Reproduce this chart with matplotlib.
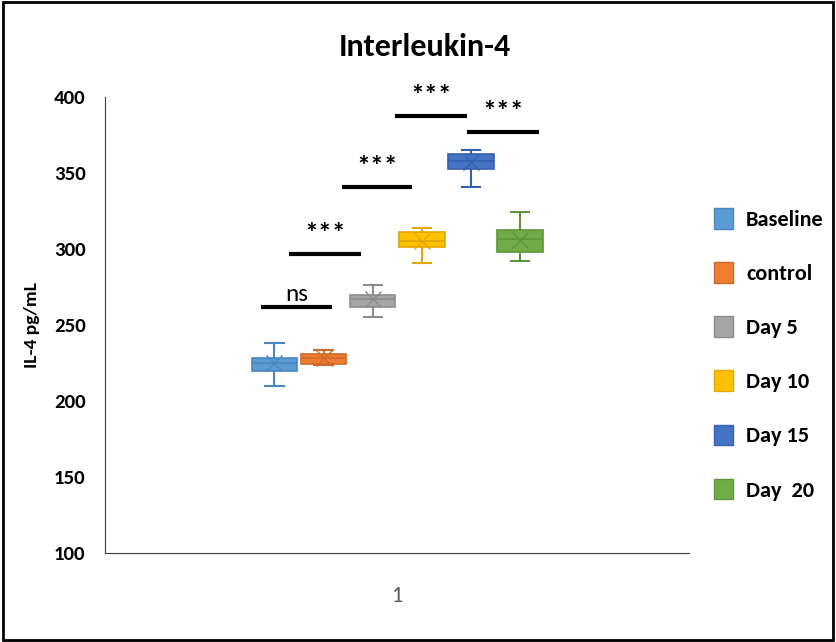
import matplotlib.pyplot as plt
import matplotlib.patches as mpatches

# group names, colours and box statistics (pg/mL)
groups = ["Baseline", "control", "Day 5", "Day 10", "Day 15", "Day  20"]
colors = ["#5B9BD5", "#ED7D31", "#A5A5A5", "#FFC000", "#4472C4", "#70AD47"]
edges = ["#4A86C0", "#D0692A", "#8C8C8C", "#E0A800", "#3560AE", "#5E9639"]
whislo = [210, 224, 255, 291, 341, 292]
q1 = [220, 224.5, 262, 301, 352.5, 298]
med = [225, 228, 267, 305, 358, 306.5]
q3 = [228, 231, 270, 311, 362.5, 312.5]
whishi = [238, 233.5, 276, 314, 365, 324]
means = [225, 228, 267, 305, 357, 306]

# significance brackets: start x, end x, height, label
sig_x0 = [0.767, 0.815, 0.905, 0.996, 1.119]
sig_x1 = [0.888, 0.938, 1.026, 1.119, 1.242]
sig_y = [262, 297, 341, 387.5, 377]
sig_lab = ["ns", "***", "***", "***", "***"]

positions = [0.79, 0.874, 0.958, 1.042, 1.126, 1.21]
box_w = 0.078

FONT = ["Carlito", "DejaVu Sans"]

fig = plt.figure(figsize=(8.36, 6.42), dpi=100)
ax = fig.add_axes([0.1256, 0.1386, 0.699, 0.7104])

stats = []
for i in range(len(groups)):
    stats.append({"whislo": whislo[i], "q1": q1[i], "med": med[i], "q3": q3[i],
                  "whishi": whishi[i], "mean": means[i], "fliers": []})

for i, s in enumerate(stats):
    ax.bxp([s], positions=[positions[i]], widths=box_w, patch_artist=True,
           showmeans=True, manage_ticks=False,
           boxprops=dict(facecolor=colors[i], edgecolor=edges[i], linewidth=1.2),
           medianprops=dict(color=edges[i], linewidth=1.2),
           whiskerprops=dict(color=edges[i], linewidth=1.5),
           capprops=dict(color=edges[i], linewidth=1.5),
           capwidths=box_w * 0.4,
           meanprops=dict(marker="x", markersize=11, markeredgecolor=edges[i],
                          markeredgewidth=1.0))

for x0, x1, y, lab in zip(sig_x0, sig_x1, sig_y, sig_lab):
    ax.plot([x0, x1], [y, y], color="black", linewidth=3, solid_capstyle="butt")
    if lab == "ns":
        ax.text((x0 + x1) / 2, y + 1, lab, ha="center", va="bottom", fontsize=18,
                family=FONT)
    else:
        ax.text((x0 + x1) / 2, y + 5, lab, ha="center", va="bottom", fontsize=20,
                fontweight="bold", family=FONT)

ax.set_xlim(0.5, 1.5)
ax.set_ylim(100, 400)
ax.set_yticks([100, 150, 200, 250, 300, 350, 400])
ax.set_xticks([1])
ax.set_xticklabels(["1"], color="#595959", fontsize=16, family=FONT)
ax.tick_params(length=0)
ax.tick_params(axis="x", pad=24)
ax.tick_params(axis="y", pad=14)
for t in ax.get_yticklabels():
    t.set_fontweight("bold")
    t.set_fontsize(15)
    t.set_family(FONT)
ax.set_ylabel("IL-4 pg/mL", fontsize=14, fontweight="bold", labelpad=10,
              family=FONT)
ax.spines["top"].set_visible(False)
ax.spines["right"].set_visible(False)
ax.spines["left"].set_color("#404040")
ax.spines["bottom"].set_color("#404040")

fig.text(0.508, 0.927, "Interleukin-4", ha="center", va="center", fontsize=23,
         fontweight="bold", family=FONT)

handles = [mpatches.Patch(facecolor=c, edgecolor=e) for c, e in zip(colors, edges)]
fig.legend(handles, groups, loc="center left", bbox_to_anchor=(0.83, 0.448),
           frameon=False, labelspacing=1.45, handlelength=0.85,
           handleheight=1.05, handletextpad=0.6,
           prop=dict(family=FONT, weight="bold", size=16))

# outer frame
fig.patches.append(mpatches.Rectangle((0.003, 0.003), 0.994, 0.994, transform=fig.transFigure,
                                      fill=False, edgecolor="black", linewidth=2))

fig.savefig("out.png", dpi=100)
